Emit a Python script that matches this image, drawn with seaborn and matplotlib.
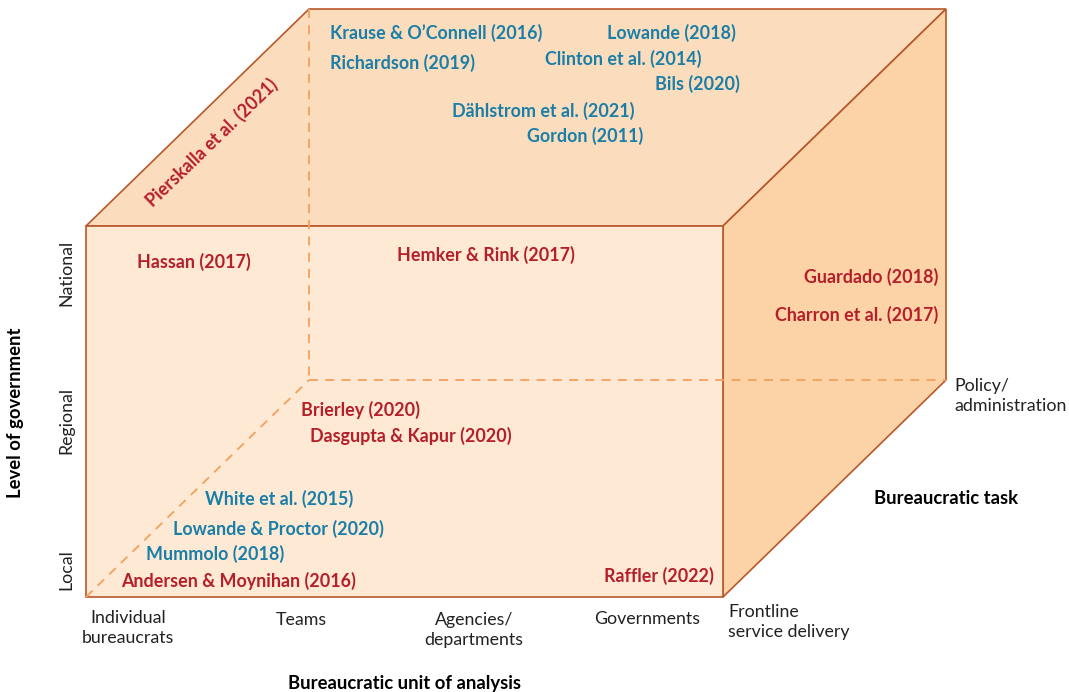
import matplotlib
matplotlib.use("Agg")
import matplotlib.pyplot as plt
import seaborn as sns
import pandas as pd

sns.set_theme(style="white")
plt.rcParams['font.family'] = ['Lato', 'DejaVu Sans']

# Studies placed in the cube (pixel anchors of the original figure)
studies = ["Krause & O\u2019Connell (2016)", "Lowande (2018)", "Richardson (2019)",
           "Clinton et al. (2014)", "Bils (2020)", "D\u00e4hlstrom et al. (2021)",
           "Gordon (2011)", "Hassan (2017)", "Hemker & Rink (2017)",
           "Guardado (2018)", "Charron et al. (2017)", "Brierley (2020)",
           "Dasgupta & Kapur (2020)", "White et al. (2015)",
           "Lowande & Proctor (2020)", "Mummolo (2018)",
           "Andersen & Moynihan (2016)", "Raffler (2022)",
           "Pierskalla et al. (2021)"]
group = ["blue", "blue", "blue", "blue", "blue", "blue", "blue",
         "red", "red", "red", "red", "red", "red",
         "blue", "blue", "blue", "red", "red", "red"]
pos_x = [330, 607, 330, 545, 655, 452, 527, 137, 397, 938, 938, 301, 310,
         205, 173, 146, 121, 604, 212]
pos_y = [33, 33, 63, 59, 84, 111, 136, 262, 255, 277, 315, 410, 436,
         499, 529, 554, 581, 576, 143]
align = ["left"] * 9 + ["right", "right"] + ["left"] * 7 + ["center"]
rot = [0] * 18 + [44]

units = ["Individual\nbureaucrats", "Teams", "Agencies/\ndepartments", "Governments"]
unit_x = [128, 301, 474, 647]
unit_y = [628, 620, 630, 619]
levels = ["National", "Regional", "Local"]
level_y = [273, 420, 570]
tasks = ["Frontline\nservice delivery", "Policy/\nadministration"]

df = pd.DataFrame({"study": studies, "group": group, "x": pos_x, "y": pos_y,
                   "ha": align, "rot": rot})

col = {"blue": "#1a7fa8", "red": "#b51f2a"}
edge = "#b8582a"
dash = "#f4a05c"

fig = plt.figure(figsize=(10.69, 6.92), dpi=100)
ax = fig.add_axes([0, 0, 1, 1])
ax.set_xlim(0, 1069)
ax.set_ylim(692, 0)
ax.axis("off")

# cube corners: front face and depth offset
x0, x1, y0, y1 = 86, 723, 226, 597
dx, dy = 223, -217

ax.fill([x0, x0 + dx, x1 + dx, x1], [y0, y0 + dy, y0 + dy, y0],
        color="#fbdcbc", ec=edge, lw=1.2, zorder=1)
ax.fill([x1, x1 + dx, x1 + dx, x1], [y0, y0 + dy, y1 + dy, y1],
        color="#fbd3a6", ec=edge, lw=1.2, zorder=1)
ax.fill([x0, x1, x1, x0], [y0, y0, y1, y1],
        color="#fde9d4", ec=edge, lw=1.2, zorder=2)

# hidden edges
hidden = pd.DataFrame({
    "x": [x0 + dx, x0 + dx, x0 + dx, x1 + dx, x0, x0 + dx],
    "y": [y0 + dy, y1 + dy, y1 + dy, y1 + dy, y1, y1 + dy]})
for seg in [(0, 1), (2, 3), (4, 5)]:
    sub = hidden.iloc[list(seg)]
    ax.plot(sub["x"], sub["y"], color=dash, lw=1.3, ls=(0, (5, 4)), zorder=3)

for _, r in df.iterrows():
    ax.text(r["x"], r["y"], r["study"], color=col[r["group"]], fontsize=12.9,
            fontweight="bold", ha=r["ha"], va="center", rotation=r["rot"],
            rotation_mode="anchor" if r["rot"] == 0 else "default", zorder=5)

for u, ux, uy in zip(units, unit_x, unit_y):
    ax.text(ux, uy, u, fontsize=12.8, ha="center", va="center",
            color="#222222", linespacing=1.3)
for lv, ly in zip(levels, level_y):
    ax.text(66, ly, lv, fontsize=12.8, ha="center", va="center",
            rotation=90, color="#222222")
ax.text(728, 622, tasks[0], fontsize=12.8, ha="left", va="center",
        color="#222222", linespacing=1.3)
ax.text(954, 396, tasks[1], fontsize=12.8, ha="left", va="center",
        color="#222222", linespacing=1.3)

ax.text(16, 413, "Level of government", fontsize=13.3, fontweight="bold",
        rotation=90, ha="center", va="center", color="black")
ax.text(946, 499, "Bureaucratic task", fontsize=13.3, fontweight="bold",
        ha="center", va="center", color="black")
ax.text(404, 683, "Bureaucratic unit of analysis", fontsize=13.3,
        fontweight="bold", ha="center", va="center", color="black")

fig.savefig("out.png", dpi=100)
